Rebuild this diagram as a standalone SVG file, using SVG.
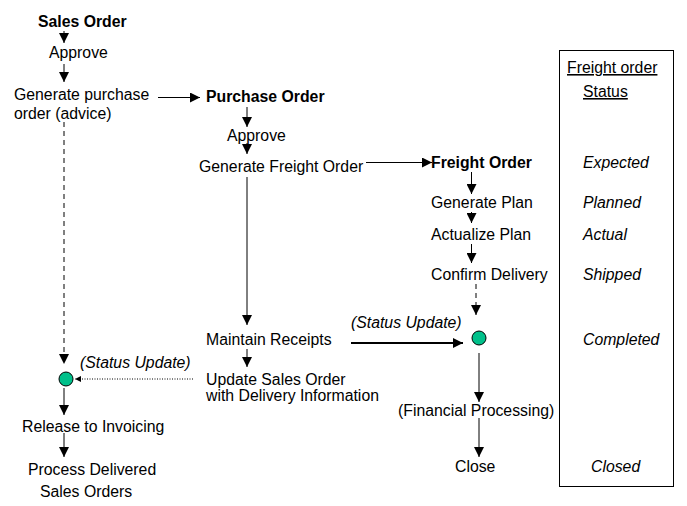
<svg xmlns="http://www.w3.org/2000/svg" width="687" height="506" viewBox="0 0 687 506">
<style>
text{font-family:"Liberation Sans",Arial,sans-serif;font-size:15.8px;fill:#000}
.b{font-weight:bold}
.i{font-style:italic}
.u{text-decoration:underline}
.ln{stroke:#000;stroke-width:1;fill:none}
.dash{stroke-dasharray:5,4}
.dot{stroke-dasharray:1,1.5}
.thick{stroke-width:2}
.node{fill:#00c08a;stroke:#000;stroke-width:1}
</style>
<defs>
<marker id="ah" markerUnits="userSpaceOnUse" viewBox="0 0 10 10" markerWidth="10" markerHeight="10" refX="10" refY="5" orient="auto"><path d="M0,0 L10,5 L0,10 z" fill="#000"/></marker>
<marker id="ahs" markerUnits="userSpaceOnUse" viewBox="0 0 10 10" markerWidth="7" markerHeight="6" refX="10" refY="5" orient="auto"><path d="M0,0 L10,5 L0,10 z" fill="#000"/></marker>
</defs>
<rect x="559.5" y="50.5" width="114" height="436" fill="none" stroke="#000"/>
<g id="connectors">
<line class="ln" x1="64" y1="31" x2="64" y2="43" marker-end="url(#ah)"/>
<line class="ln" x1="64" y1="64" x2="64" y2="82" marker-end="url(#ah)"/>
<line class="ln dash" x1="64" y1="122" x2="64" y2="364" marker-end="url(#ah)"/>
<line class="ln" x1="158" y1="97.5" x2="200" y2="97.5" marker-end="url(#ah)"/>
<line class="ln" x1="247" y1="107" x2="247" y2="127" marker-end="url(#ah)"/>
<line class="ln" x1="247" y1="143" x2="247" y2="154" marker-end="url(#ah)"/>
<line class="ln" x1="366" y1="162.5" x2="432" y2="162.5" marker-end="url(#ah)"/>
<line class="ln" x1="247" y1="177" x2="247" y2="325" marker-end="url(#ah)"/>
<line class="ln" x1="247" y1="349" x2="247" y2="367" marker-end="url(#ah)"/>
<line class="ln" x1="471.5" y1="172" x2="471.5" y2="194" marker-end="url(#ah)"/>
<line class="ln" x1="471.5" y1="212" x2="471.5" y2="223" marker-end="url(#ah)"/>
<line class="ln" x1="471.5" y1="244" x2="471.5" y2="263" marker-end="url(#ah)"/>
<line class="ln dash" x1="476" y1="284" x2="476" y2="315" marker-end="url(#ah)"/>
<line class="ln thick" x1="351" y1="343" x2="463" y2="343" marker-end="url(#ah)"/>
<line class="ln" x1="479" y1="353" x2="479" y2="402" marker-end="url(#ah)"/>
<line class="ln" x1="479" y1="418" x2="479" y2="457" marker-end="url(#ah)"/>
<line class="ln dot" x1="193" y1="379" x2="75" y2="379" marker-end="url(#ahs)"/>
<line class="ln" x1="64" y1="388" x2="64" y2="415" marker-end="url(#ah)"/>
<line class="ln" x1="64" y1="433" x2="64" y2="457" marker-end="url(#ah)"/>
</g>
<g id="sales-order"><text class="b" x="38" y="27">Sales Order</text></g>
<g id="so-approve"><text x="49" y="58">Approve</text></g>
<g id="gen-po"><text x="14" y="100">Generate purchase</text><text x="14" y="119">order (advice)</text></g>
<g id="purchase-order"><text class="b" x="206" y="102">Purchase Order</text></g>
<g id="po-approve"><text x="227" y="141">Approve</text></g>
<g id="gen-fo"><text x="199" y="172">Generate Freight Order</text></g>
<g id="freight-order"><text class="b" x="431" y="168">Freight Order</text></g>
<g id="gen-plan"><text x="431" y="208">Generate Plan</text></g>
<g id="act-plan"><text x="431" y="240">Actualize Plan</text></g>
<g id="confirm"><text x="431" y="280">Confirm Delivery</text></g>
<g id="maintain"><text x="206" y="345">Maintain Receipts</text></g>
<g id="update-so"><text x="206" y="385">Update Sales Order</text><text x="206" y="401">with Delivery Information</text></g>
<g id="status-update-1"><text class="i" x="351" y="328">(Status Update)</text></g>
<g id="status-update-2"><text class="i" x="80" y="368">(Status Update)</text></g>
<g id="fo-node"><circle class="node" cx="479" cy="338" r="7"/></g>
<g id="so-node"><circle class="node" cx="66" cy="379" r="7"/></g>
<g id="fin"><text x="398" y="416">(Financial Processing)</text></g>
<g id="close"><text x="455" y="472">Close</text></g>
<g id="release"><text x="22" y="432">Release to Invoicing</text></g>
<g id="process"><text x="28" y="475">Process Delivered</text><text x="40" y="497">Sales Orders</text></g>
<g id="status-column">
<text class="u" x="567" y="73">Freight order</text>
<text class="u" x="583" y="97">Status</text>
<text class="i" x="583" y="168">Expected</text>
<text class="i" x="583" y="208">Planned</text>
<text class="i" x="583" y="240">Actual</text>
<text class="i" x="583" y="280">Shipped</text>
<text class="i" x="583" y="345">Completed</text>
<text class="i" x="591" y="472">Closed</text>
</g>
</svg>
